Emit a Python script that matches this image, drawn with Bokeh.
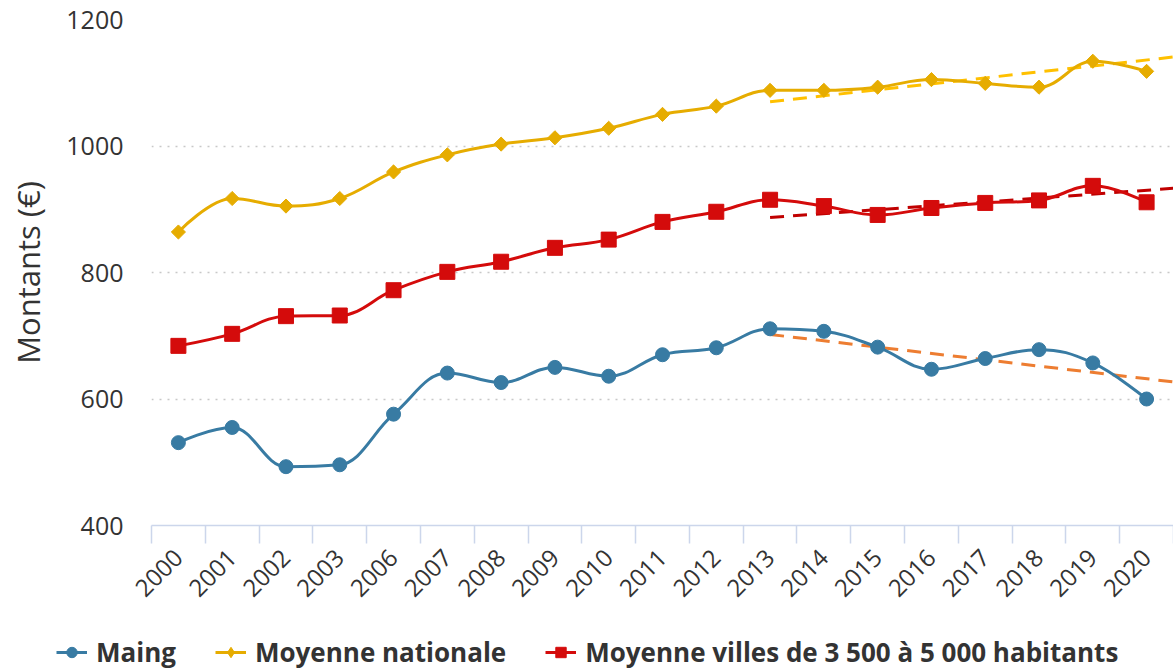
import math
from bokeh.plotting import figure
from bokeh.layouts import column
from bokeh.models import Range1d, FixedTicker, Legend, LegendItem, ColumnDataSource
from bokeh.embed import file_html
from bokeh.resources import INLINE

# ---------------- data ----------------
years = ["2000", "2001", "2002", "2003", "2006", "2007", "2008", "2009", "2010",
         "2011", "2012", "2013", "2014", "2015", "2016", "2017", "2018", "2019", "2020"]
maing = [531, 555, 493, 496, 576, 641, 626, 650, 636, 670, 681, 711, 707, 682, 647, 664, 678, 657, 600]
nationale = [864, 917, 905, 917, 959, 986, 1003, 1013, 1028, 1050, 1063, 1088, 1088, 1093, 1105, 1099, 1093, 1134, 1118]
villes = [684, 703, 731, 732, 772, 801, 817, 839, 852, 880, 896, 915, 905, 891, 902, 910, 914, 937, 911]

trend_years = ["2013", "2020"]
maing_trend = [702, 632]
nationale_trend = [1070, 1136]
villes_trend = [887, 930]

series_names = ["Maing", "Moyenne nationale", "Moyenne villes de 3 500 à 5 000 habitants"]

FONT = "Open Sans"
BLUE, GOLD, RED = "#387BA3", "#E6AC00", "#D40B0B"
T_ORANGE, T_GOLD, T_RED = "#ED7D31", "#FFC000", "#C00000"

xs = list(range(len(years)))
NAN = float("nan")


def spline_segments(xv, yv, smoothing=1.5):
    """Highcharts-style spline control points -> bezier segments."""
    n = len(xv)
    lc = [(xv[i], yv[i]) for i in range(n)]
    rc = [(xv[i], yv[i]) for i in range(n)]
    denom = smoothing + 1
    for i in range(1, n - 1):
        px, py = xv[i], yv[i]
        lx, ly = xv[i - 1], yv[i - 1]
        nx, ny = xv[i + 1], yv[i + 1]
        lcx = (smoothing * px + lx) / denom
        lcy = (smoothing * py + ly) / denom
        rcx = (smoothing * px + nx) / denom
        rcy = (smoothing * py + ny) / denom
        corr = 0
        if rcx != lcx:
            corr = (rcy - lcy) * (rcx - px) / (rcx - lcx) + py - rcy
        lcy += corr
        rcy += corr
        if lcy > ly and lcy > py:
            lcy = max(ly, py); rcy = 2 * py - lcy
        elif lcy < ly and lcy < py:
            lcy = min(ly, py); rcy = 2 * py - lcy
        if rcy > ny and rcy > py:
            rcy = max(ny, py); lcy = 2 * py - rcy
        elif rcy < ny and rcy < py:
            rcy = min(ny, py); lcy = 2 * py - rcy
        lc[i] = (lcx, lcy)
        rc[i] = (rcx, rcy)
    d = dict(x0=[], y0=[], x1=[], y1=[], cx0=[], cy0=[], cx1=[], cy1=[])
    for i in range(1, n):
        d["x0"].append(xv[i - 1]); d["y0"].append(yv[i - 1])
        d["cx0"].append(rc[i - 1][0]); d["cy0"].append(rc[i - 1][1])
        d["cx1"].append(lc[i][0]); d["cy1"].append(lc[i][1])
        d["x1"].append(xv[i]); d["y1"].append(yv[i])
    return ColumnDataSource(d)


p = figure(frame_width=1022, frame_height=506, output_backend="svg", toolbar_location=None,
           x_range=Range1d(-0.5, 18.5), y_range=Range1d(400, 1200),
           min_border_left=151, min_border_right=0, min_border_top=19, min_border_bottom=96)
p.outline_line_color = None
p.background_fill_color = "white"
p.border_fill_color = "white"

# grid
p.xgrid.grid_line_color = None
p.ygrid.grid_line_color = "#c8c8c8"
p.ygrid.grid_line_dash = "2 6"
p.ygrid.grid_line_width = 1.5
p.yaxis.ticker = FixedTicker(ticks=[400, 600, 800, 1000, 1200])

# y axis
p.yaxis.axis_line_color = None
p.yaxis.major_tick_line_color = None
p.yaxis.minor_tick_line_color = None
p.yaxis.major_tick_out = 0
p.yaxis.major_tick_in = 0
p.yaxis.major_label_standoff = 28
p.yaxis.major_label_text_font = FONT
p.yaxis.major_label_text_font_size = "25px"
p.yaxis.major_label_text_color = "#333333"
p.yaxis.axis_label = "Montants (€)"
p.yaxis.axis_label_text_font = FONT
p.yaxis.axis_label_text_font_size = "31px"
p.yaxis.axis_label_text_font_style = "normal"
p.yaxis.axis_label_text_color = "#333333"
p.yaxis.axis_label_standoff = 14

# x axis
p.xaxis.ticker = FixedTicker(ticks=xs, minor_ticks=[i - 0.5 for i in range(len(years) + 1)])
p.xaxis.major_label_overrides = {i: y for i, y in enumerate(years)}
p.xaxis.axis_line_color = "#ccd6eb"
p.xaxis.axis_line_width = 1.5
p.xaxis.major_tick_line_color = None
p.xaxis.major_tick_out = 0
p.xaxis.major_tick_in = 0
p.xaxis.minor_tick_line_color = "#ccd6eb"
p.xaxis.minor_tick_line_width = 1.5
p.xaxis.minor_tick_in = 0
p.xaxis.minor_tick_out = 18
p.xaxis.major_label_orientation = math.pi / 4
p.xaxis.major_label_standoff = 10
p.xaxis.major_label_text_font = FONT
p.xaxis.major_label_text_font_size = "24px"
p.xaxis.major_label_text_color = "#333333"


# trend lines (dashed), extended to the frame edge
def trend_points(vals):
    i0, i1 = years.index(trend_years[0]), years.index(trend_years[1])
    slope = (vals[1] - vals[0]) / (i1 - i0)
    xe = 18.5
    return [i0, xe], [vals[0], vals[0] + slope * (xe - i0)]


for vals, col in [(maing_trend, T_ORANGE), (nationale_trend, T_GOLD), (villes_trend, T_RED)]:
    tx, ty = trend_points(vals)
    p.line(tx, ty, line_color=col, line_width=3, line_dash="14 9")

# separate strip that holds the legend under the chart
lg = figure(width=1173, height=49, output_backend="svg", toolbar_location=None,
            x_range=Range1d(0, 1), y_range=Range1d(0, 1),
            min_border_left=0, min_border_right=0, min_border_top=0, min_border_bottom=0)
lg.frame_align = False
lg.axis.visible = False
lg.grid.grid_line_color = None
lg.outline_line_color = None

legend_items = []
for vals, col, marker, size, angle, leg_marker, leg_size, name in [
        (maing, BLUE, "circle", 14, 0, "circle", 13, series_names[0]),
        (nationale, GOLD, "square", 10, math.pi / 4, "diamond", 17, series_names[1]),
        (villes, RED, "square", 15, 0, "square", 14, series_names[2])]:
    src = spline_segments(xs, vals)
    p.bezier(x0="x0", y0="y0", x1="x1", y1="y1", cx0="cx0", cy0="cy0", cx1="cx1", cy1="cy1",
             source=src, line_color=col, line_width=3)
    p.scatter(xs, vals, marker=marker, size=size, angle=angle,
              fill_color=col, line_color=col)
    # legend proxies (NaN data: nothing drawn)
    leg_line = lg.line([NAN], [NAN], line_color=col, line_width=3)
    leg_mark = lg.scatter([NAN], [NAN], marker=leg_marker, size=leg_size,
                          fill_color=col, line_color=col)
    legend_items.append(LegendItem(label=name, renderers=[leg_line, leg_mark]))

legend = Legend(items=legend_items, orientation="horizontal", location=(56, 0),
                label_text_font=FONT, label_text_font_size="26px", label_text_font_style="bold",
                label_text_color="#333333", glyph_width=31, glyph_height=26,
                label_standoff=9, spacing=39, padding=0, margin=0,
                border_line_color=None, background_fill_alpha=0)
lg.add_layout(legend, "center")

layout = column(p, lg, spacing=0)
open("out.html", "w").write(file_html(layout, INLINE))
